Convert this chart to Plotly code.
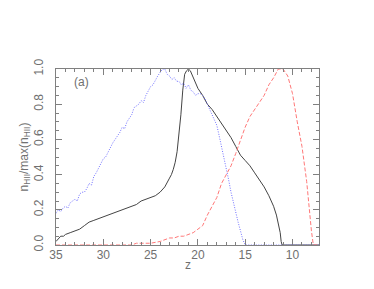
import plotly.graph_objects as go

# black solid curve
z_black = [35.0, 34.7, 34.5, 34.2, 34.0, 33.5, 33.0, 32.5, 32.0, 31.5, 31.0, 30.5, 30.0, 29.5, 29.0,
           28.5, 28.0, 27.5, 27.0, 26.5, 26.0, 25.5, 25.0, 24.5, 24.0, 23.5, 23.0, 22.8, 22.6, 22.4,
           22.2, 22.0, 21.8, 21.6, 21.4, 21.2, 21.0, 20.8, 20.5, 20.2, 20.0, 19.5, 19.0, 18.5, 18.0,
           17.5, 17.0, 16.5, 16.0, 15.5, 15.0, 14.5, 14.0, 13.5, 13.0, 12.5, 12.0, 11.7, 11.5, 11.3,
           11.2, 11.1, 7.2]
v_black = [0.02, 0.04, 0.05, 0.05, 0.06, 0.07, 0.08, 0.09, 0.11, 0.13, 0.14, 0.15, 0.16, 0.17, 0.18,
           0.19, 0.20, 0.21, 0.22, 0.23, 0.25, 0.26, 0.27, 0.28, 0.30, 0.33, 0.38, 0.40, 0.43, 0.47,
           0.53, 0.62, 0.74, 0.88, 0.97, 0.99, 1.00, 0.99, 0.95, 0.92, 0.89, 0.85, 0.80, 0.77, 0.73,
           0.69, 0.65, 0.61, 0.56, 0.51, 0.48, 0.45, 0.41, 0.37, 0.33, 0.28, 0.22, 0.17, 0.12, 0.07,
           0.02, 0.0, 0.0]

# blue dotted curve
z_blue = [35.0, 34.75, 34.5, 34.25, 34.0, 33.75, 33.5, 33.25, 33.0, 32.75, 32.5, 32.25, 32.0, 31.75,
          31.5, 31.25, 31.0, 30.75, 30.5, 30.25, 30.0, 29.75, 29.5, 29.25, 29.0, 28.75, 28.5, 28.25,
          28.0, 27.75, 27.5, 27.25, 27.0, 26.75, 26.5, 26.25, 26.0, 25.75, 25.5, 25.25, 25.0, 24.75,
          24.5, 24.25, 24.0, 23.75, 23.5, 23.25, 23.0, 22.75, 22.5, 22.25, 22.0, 21.75, 21.5, 21.25,
          21.0, 20.75, 20.5, 20.25, 20.0, 19.75, 19.5, 19.25, 19.0, 18.75, 18.5, 18.25, 18.0, 17.75,
          17.5, 17.25, 17.0, 16.75, 16.5, 16.25, 16.0, 15.75, 15.5, 15.25, 15.0, 7.2]
v_blue = [0.18, 0.20, 0.19, 0.21, 0.22, 0.21, 0.24, 0.25, 0.26, 0.25, 0.29, 0.30, 0.30, 0.32,
          0.35, 0.34, 0.39, 0.41, 0.44, 0.46, 0.49, 0.50, 0.53, 0.56, 0.58, 0.60, 0.62, 0.64,
          0.67, 0.66, 0.70, 0.72, 0.74, 0.78, 0.79, 0.80, 0.82, 0.81, 0.85, 0.88, 0.90, 0.91,
          0.94, 0.96, 0.98, 1.00, 1.00, 0.97, 0.96, 0.94, 0.95, 0.93, 0.93, 0.91, 0.92, 0.89,
          0.91, 0.88, 0.87, 0.85, 0.86, 0.86, 0.85, 0.83, 0.80, 0.77, 0.74, 0.71, 0.68, 0.62,
          0.56, 0.50, 0.44, 0.37, 0.30, 0.24, 0.18, 0.13, 0.08, 0.03, 0.0, 0.0]

# red dashed curve
z_red = [35.0, 28.0, 27.0, 26.5, 26.0, 25.0, 24.0, 23.5, 23.0, 22.5, 22.0, 21.5, 21.0, 20.5, 20.0,
         19.5, 19.0, 18.5, 18.0, 17.5, 17.0, 16.5, 16.0, 15.5, 15.0, 14.5, 14.0, 13.5, 13.0, 12.5,
         12.0, 11.5, 11.0, 10.5, 10.0, 9.5, 9.0, 8.5, 8.2, 8.0, 7.8, 7.2]
v_red = [0.0, 0.0, 0.0, 0.01, 0.01, 0.01, 0.02, 0.03, 0.04, 0.04, 0.05, 0.05, 0.06, 0.07, 0.09,
         0.11, 0.17, 0.22, 0.27, 0.35, 0.40, 0.45, 0.52, 0.60, 0.67, 0.73, 0.77, 0.81, 0.85, 0.91,
         0.95, 1.00, 1.00, 0.96, 0.86, 0.70, 0.56, 0.36, 0.18, 0.08, 0.0, 0.0]

x_ticks = [35, 30, 25, 20, 15, 10]
y_ticks = [0.0, 0.2, 0.4, 0.6, 0.8, 1.0]

fig = go.Figure()
fig.add_trace(go.Scatter(x=z_black, y=v_black, mode="lines",
                         line=dict(color="#444444", width=1)))
fig.add_trace(go.Scatter(x=z_blue, y=v_blue, mode="lines",
                         line=dict(color="#7070ff", width=1, dash="1px,1.5px")))
fig.add_trace(go.Scatter(x=z_red, y=v_red, mode="lines",
                         line=dict(color="#ff7878", width=1, dash="4px,2px")))

font = dict(family="Liberation Sans", size=12, color="#707070")
fig.update_layout(
    width=374, height=289,
    margin=dict(l=48, r=63, t=61, b=52),
    paper_bgcolor="white", plot_bgcolor="white",
    showlegend=False,
    font=font,
    xaxis=dict(range=[35, 7.2], tickvals=x_ticks, ticktext=[str(t) for t in x_ticks],
               ticks="inside", ticklen=6, tickcolor="#808080", mirror="ticks",
               showline=True, linecolor="#808080", linewidth=1, showgrid=False, zeroline=False,
               minor=dict(dtick=1, tick0=0, ticks="inside", ticklen=3, tickcolor="#808080"),
               tickfont=font, automargin=False, ticklabelstandoff=-1),
    yaxis=dict(range=[0, 1.0], tickvals=y_ticks, ticktext=["0.0", "0.2", "0.4", "0.6", "0.8", "1.0"],
               ticks="inside", ticklen=6, tickcolor="#808080", mirror="ticks", tickangle=-90,
               showline=True, linecolor="#808080", linewidth=1, showgrid=False, zeroline=False,
               minor=dict(dtick=0.05, tick0=0, ticks="inside", ticklen=3, tickcolor="#808080"),
               tickfont=font, automargin=False, ticklabelstandoff=7,
               title=dict(text="n<sub>HII</sub>/max(n<sub>HII</sub>)", standoff=0,
                          font=dict(family="Liberation Sans", size=12, color="#707070"))),
    annotations=[
        dict(x=32.3, y=0.925, xref="x", yref="y", text="(a)", showarrow=False,
             font=dict(family="Liberation Sans", size=12, color="#707070")),
        dict(x=0.5, y=0, xref="paper", yref="paper", yshift=-20, text="z", showarrow=False,
             yanchor="middle", font=dict(family="Liberation Sans", size=12, color="#707070")),
    ],
)

fig.write_html("out.html")
